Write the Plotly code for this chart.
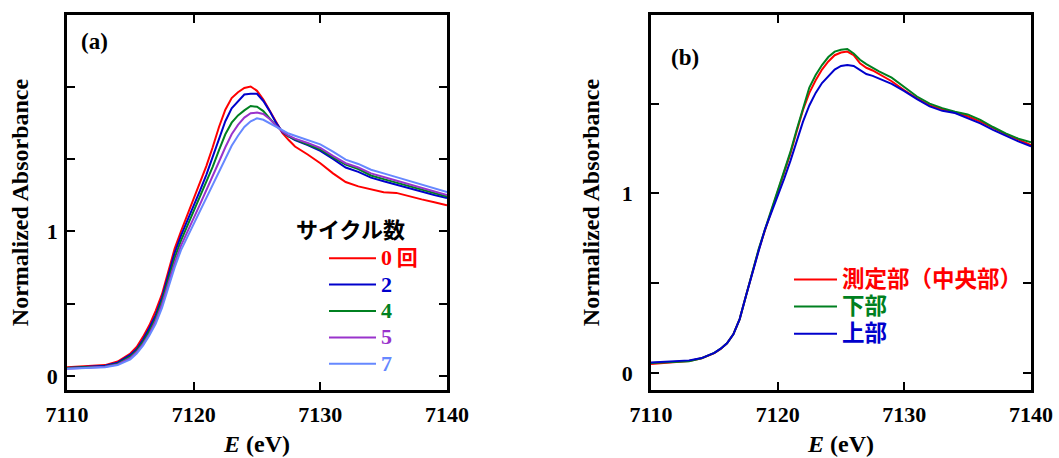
import plotly.graph_objects as go

# ---------------- data ----------------
energy = [7110, 7111, 7112, 7113, 7114, 7115, 7115.5, 7116, 7116.5, 7117, 7117.5,
          7118, 7118.5, 7119, 7119.5, 7120, 7120.5, 7121, 7121.5, 7122, 7122.5,
          7123, 7123.5, 7124, 7124.5, 7125, 7125.5, 7126, 7126.5, 7127, 7127.5,
          7128, 7129, 7130, 7131, 7132, 7133, 7134, 7135, 7136, 7137, 7138, 7139, 7140]

# panel (a): cycle number
cyc0 = [0.060, 0.065, 0.070, 0.075, 0.100, 0.155, 0.200, 0.270, 0.350, 0.450, 0.565,
        0.720, 0.880, 1.000, 1.110, 1.220, 1.330, 1.450, 1.580, 1.720, 1.840,
        1.920, 1.960, 1.990, 2.000, 1.970, 1.910, 1.830, 1.760, 1.680, 1.630,
        1.585, 1.530, 1.470, 1.400, 1.340, 1.310, 1.290, 1.270, 1.265, 1.240, 1.220, 1.200, 1.180]
cyc2 = [0.055, 0.060, 0.065, 0.070, 0.092, 0.145, 0.185, 0.250, 0.330, 0.420, 0.540,
        0.690, 0.850, 0.970, 1.070, 1.180, 1.280, 1.390, 1.510, 1.640, 1.760,
        1.850, 1.900, 1.945, 1.950, 1.950, 1.900, 1.830, 1.750, 1.685, 1.655,
        1.630, 1.595, 1.555, 1.500, 1.440, 1.410, 1.370, 1.345, 1.320, 1.300, 1.270, 1.250, 1.230]
cyc4 = [0.055, 0.058, 0.062, 0.066, 0.085, 0.135, 0.175, 0.235, 0.310, 0.400, 0.520,
        0.665, 0.815, 0.935, 1.035, 1.135, 1.235, 1.335, 1.445, 1.560, 1.670,
        1.750, 1.800, 1.835, 1.865, 1.860, 1.830, 1.780, 1.730, 1.690, 1.655,
        1.635, 1.600, 1.565, 1.510, 1.460, 1.430, 1.385, 1.360, 1.335, 1.315, 1.290, 1.260, 1.240]
cyc5 = [0.050, 0.055, 0.060, 0.064, 0.080, 0.125, 0.165, 0.220, 0.290, 0.380, 0.495,
        0.635, 0.780, 0.900, 1.000, 1.090, 1.185, 1.280, 1.375, 1.480, 1.580,
        1.670, 1.735, 1.785, 1.815, 1.820, 1.810, 1.775, 1.730, 1.690, 1.660,
        1.640, 1.610, 1.575, 1.520, 1.470, 1.440, 1.400, 1.375, 1.350, 1.325, 1.295, 1.270, 1.250]
cyc7 = [0.050, 0.052, 0.056, 0.060, 0.075, 0.115, 0.155, 0.210, 0.280, 0.360, 0.470,
        0.610, 0.750, 0.870, 0.960, 1.050, 1.140, 1.225, 1.310, 1.410, 1.500,
        1.590, 1.660, 1.720, 1.760, 1.780, 1.770, 1.745, 1.720, 1.695, 1.675,
        1.660, 1.630, 1.600, 1.550, 1.495, 1.465, 1.425, 1.400, 1.375, 1.350, 1.320, 1.295, 1.270]

# panel (b): position
center = [0.050, 0.055, 0.062, 0.066, 0.082, 0.110, 0.133, 0.165, 0.215, 0.300, 0.430,
          0.560, 0.685, 0.795, 0.900, 1.000, 1.110, 1.220, 1.345, 1.465, 1.560,
          1.630, 1.690, 1.735, 1.770, 1.785, 1.790, 1.770, 1.725, 1.700, 1.685,
          1.665, 1.625, 1.575, 1.530, 1.490, 1.470, 1.450, 1.430, 1.400, 1.363, 1.330, 1.300, 1.270]
lower = [0.055, 0.058, 0.062, 0.065, 0.082, 0.112, 0.135, 0.165, 0.215, 0.300, 0.430,
         0.565, 0.690, 0.800, 0.910, 1.010, 1.120, 1.230, 1.355, 1.480, 1.590,
         1.660, 1.715, 1.760, 1.790, 1.800, 1.805, 1.780, 1.745, 1.720, 1.700,
         1.680, 1.645, 1.595, 1.540, 1.500, 1.475, 1.455, 1.440, 1.410, 1.370, 1.335, 1.305, 1.285]
upper = [0.058, 0.062, 0.066, 0.070, 0.083, 0.112, 0.135, 0.165, 0.215, 0.300, 0.430,
         0.560, 0.680, 0.800, 0.890, 0.985, 1.080, 1.180, 1.290, 1.400, 1.490,
         1.560, 1.615, 1.655, 1.690, 1.710, 1.716, 1.710, 1.685, 1.665, 1.655,
         1.640, 1.610, 1.570, 1.525, 1.485, 1.460, 1.448, 1.420, 1.390, 1.354, 1.320, 1.290, 1.262]

series_a = [("0", " 回", cyc0, "#FF0000"),
            ("2", "", cyc2, "#0000CC"),
            ("4", "", cyc4, "#008020"),
            ("5", "", cyc5, "#9933CC"),
            ("7", "", cyc7, "#6688FF")]
series_b = [("測定部（中央部）", center, "#FF0000"),
            ("下部", lower, "#008020"),
            ("上部", upper, "#0000CC")]

x_ticks = [7110, 7120, 7130, 7140]
ya_ticks = [0, 0.5, 1, 1.5, 2]
ya_text = ["0", "", "1", "", ""]
yb_ticks = [0, 0.5, 1, 1.5]
yb_text = ["0", "", "1", ""]

SERIF = "Liberation Serif"
GOTH = "Noto Sans CJK JP"

fig = go.Figure()

for num, suffix, ys, col in series_a:
    name = (f'<span style="color:{col};font-size:22px;font-family:{SERIF}"><b>{num}</b></span>'
            + (f'<span style="color:{col};font-size:21px;font-family:{GOTH}"><b>{suffix}</b></span>' if suffix else ""))
    fig.add_trace(go.Scatter(x=energy, y=ys, mode="lines", name=name,
                             line=dict(color=col, width=2), legend="legend",
                             xaxis="x", yaxis="y"))

for label, ys, col in series_b:
    name = f'<span style="color:{col};font-size:22.5px;font-family:{GOTH}"><b>{label}</b></span>'
    fig.add_trace(go.Scatter(x=energy, y=ys, mode="lines", name=name,
                             line=dict(color=col, width=2), legend="legend2",
                             xaxis="x2", yaxis="y2"))

W, H = 1059, 458
ax_common = dict(showline=True, linewidth=2.5, linecolor="black", mirror="ticks",
                 ticks="inside", ticklen=8, tickwidth=2, tickcolor="black",
                 showgrid=False, zeroline=False, automargin=False,
                 tickfont=dict(family=SERIF, size=22, color="black", weight="bold"))

xa = dict(ax_common, range=[7110, 7140], tickvals=x_ticks, ticklabelstandoff=3,
          title=dict(text="<i>E</i> (eV)", font=dict(family=SERIF, size=24, color="black", weight="bold"),
                     standoff=10))
ytitle_font = dict(family=SERIF, size=24, color="black", weight="bold")
fig.update_layout(
    width=W, height=H,
    margin=dict(l=0, r=0, t=0, b=0, autoexpand=False),
    paper_bgcolor="white", plot_bgcolor="white",
    xaxis=dict(xa, domain=[67 / W, 447 / W], anchor="y"),
    xaxis2=dict(xa, domain=[651 / W, 1031 / W], anchor="y2"),
    yaxis=dict(ax_common, range=[-0.097, 2.494], tickvals=ya_ticks, ticktext=ya_text,
               domain=[68 / H, 443 / H], anchor="x", ticklabelstandoff=2,
               title=dict(text="Normalized Absorbance", font=ytitle_font, standoff=12)),
    yaxis2=dict(ax_common, range=[-0.095, 1.994], tickvals=yb_ticks, ticktext=yb_text,
                domain=[68 / H, 443 / H], anchor="x2", ticklabelstandoff=11,
                title=dict(text="Normalized Absorbance", font=ytitle_font, standoff=16)),
    legend=dict(x=324 / W, y=(H - 240) / H, xanchor="left", yanchor="top",
                bgcolor="rgba(0,0,0,0)", font=dict(size=18, family=SERIF),
                itemwidth=47, tracegroupgap=0),
    legend2=dict(x=789 / W, y=(H - 261) / H, xanchor="left", yanchor="top",
                 bgcolor="rgba(0,0,0,0)", font=dict(size=18.5, family=GOTH),
                 itemwidth=43, tracegroupgap=0),
    showlegend=True,
    annotations=[
        dict(text="<b>(a)</b>", x=94 / W, y=(H - 41) / H, xref="paper", yref="paper",
             xanchor="center", yanchor="middle",
             showarrow=False, font=dict(family=SERIF, size=23, color="black")),
        dict(text="<b>(b)</b>", x=685 / W, y=(H - 58) / H, xref="paper", yref="paper",
             xanchor="center", yanchor="middle",
             showarrow=False, font=dict(family=SERIF, size=23, color="black")),
        dict(text="<b>サイクル数</b>", x=294 / W, y=(H - 228) / H, xref="paper", yref="paper",
             xanchor="left", yanchor="middle",
             showarrow=False, font=dict(family=GOTH, size=22, color="black")),
    ],
)

fig.write_html("out.html", config={"displayModeBar": False},
               post_script="document.body.style.margin='0';document.body.style.padding='0';")
